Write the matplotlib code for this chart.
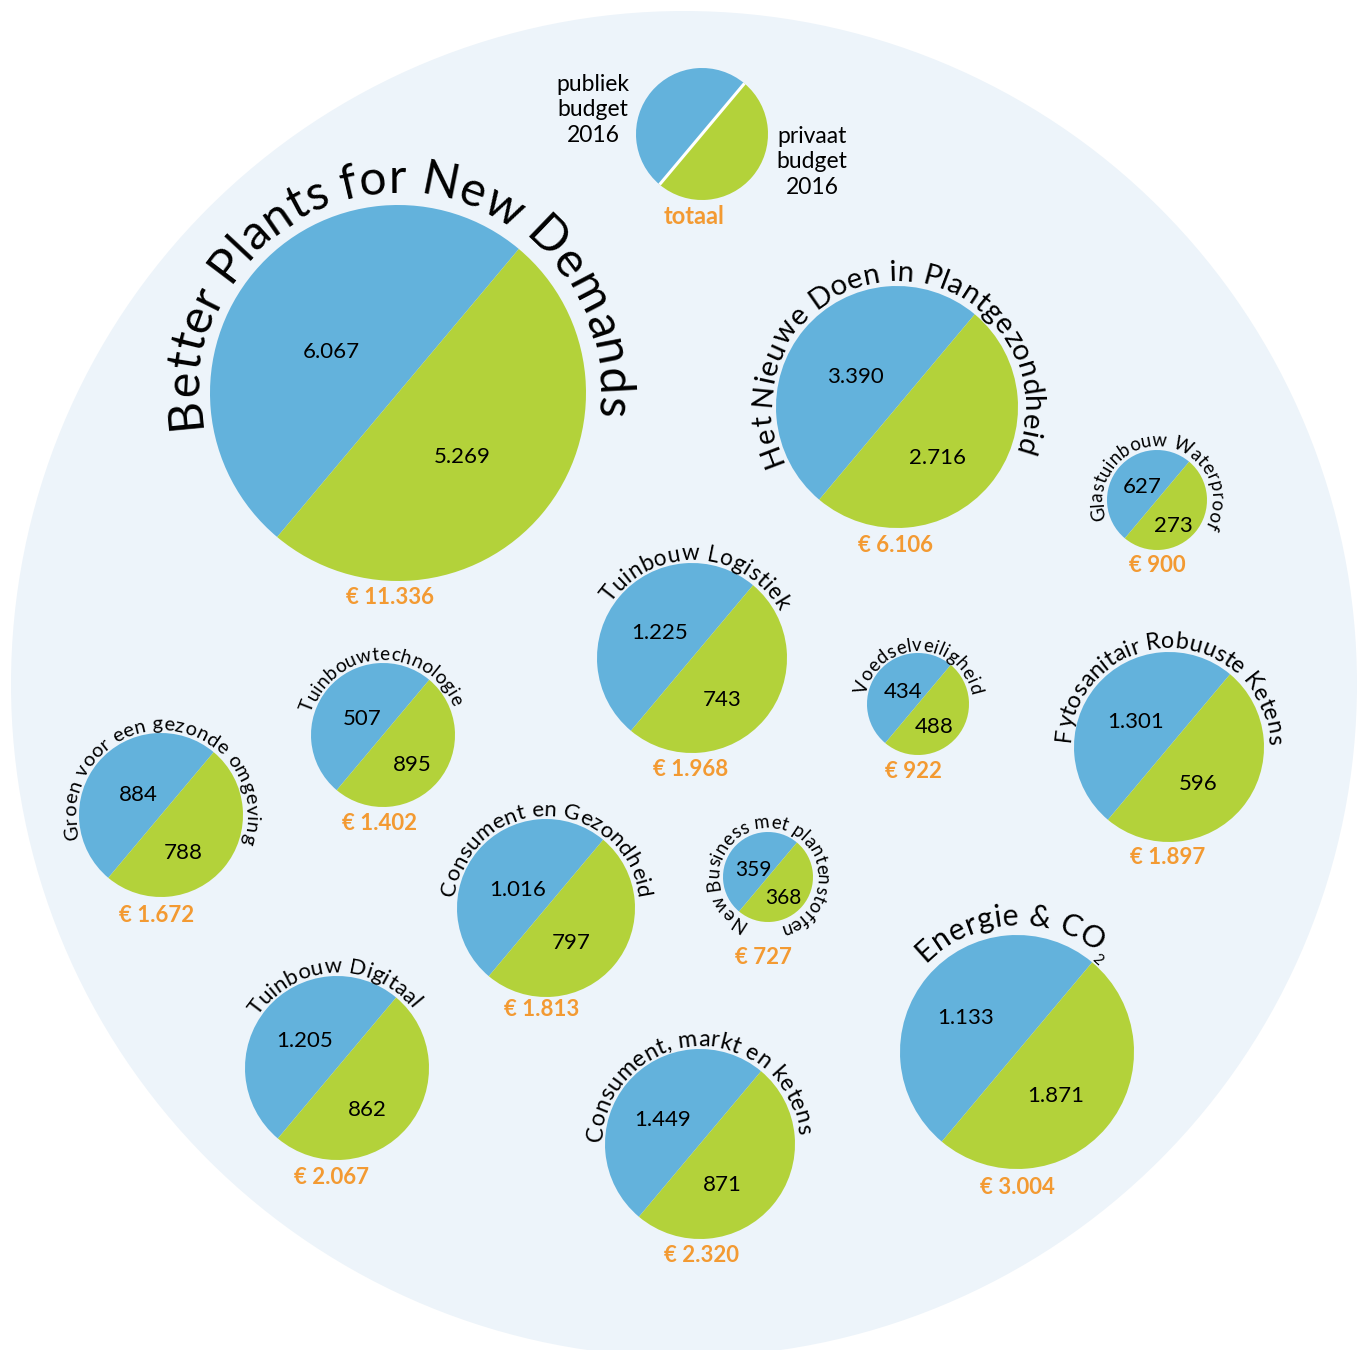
import numpy as np
import matplotlib
matplotlib.use("Agg")
import matplotlib.pyplot as plt
from matplotlib.patches import Circle, Wedge
from matplotlib.font_manager import FontProperties, findfont, get_font

W, H = 1362, 1350
FONT = "Lato"
BLUE = "#63B2DC"
GREEN = "#B3D23A"
ORANGE = "#F39A32"
BG = "#EDF4FA"

# data: budget 2016 (x 1000 euro)
projects = ["Better Plants for New Demands", "Het Nieuwe Doen in Plantgezondheid",
            "Glastuinbouw Waterproof", "Tuinbouw Logistiek", "Tuinbouwtechnologie",
            "Voedselveiligheid", "Fytosanitair Robuuste Ketens",
            "Groen voor een gezonde omgeving", "Consument en Gezondheid",
            "New Business met plantenstoffen", "Tuinbouw Digitaal",
            "Consument, markt en ketens", "Energie & CO"]
publiek = [6067, 3390, 627, 1225, 507, 434, 1301, 884, 1016, 359, 1205, 1449, 1133]
privaat = [5269, 2716, 273, 743, 895, 488, 596, 788, 797, 368, 862, 871, 1871]
totaal = [a + b for a, b in zip(publiek, privaat)]

# layout, image pixels (y down)
circ_x = [398, 897, 1157, 692, 383, 918, 1169, 161, 546, 768, 337, 700, 1017]
circ_y = [393, 407, 500, 658, 735, 704, 747, 815, 908, 877, 1068, 1144, 1052]
circ_r = [188, 121, 50, 95, 72, 51, 95, 82, 89, 45, 92, 95, 117]
lab_size = [37, 22, 15, 16.5, 15, 14, 19, 14.5, 17.5, 15, 17, 18, 22]
lab_R = [200, 126, 54, 98, 75, 53, 99, 85, 92, 49, 95, 98, 127]
lab_a0 = [190, 206, 201, 146, 163, 170, 177, 196, 173, 246, 147, 179, 136]
lab_a1 = [-7, -21, -29, 28, 22, 9, 1, -19, 6, -78, 38, 5, 47]
pub_xy = [(331, 352), (855, 377), (1142, 487), (660, 633), (362, 719), (903, 692),
          (1136, 722), (138, 795), (518, 890), (753, 870), (305, 1041), (663, 1120), (966, 1018)]
priv_xy = [(462, 457), (937, 458), (1173, 526), (722, 700), (412, 765), (934, 727),
           (1198, 784), (183, 853), (571, 943), (783, 898), (367, 1110), (722, 1185), (1056, 1096)]
tot_xy = [(390, 598), (896, 545), (1157, 566), (691, 769), (379, 823), (913, 772),
          (1168, 857), (157, 915), (542, 1010), (763, 957), (331, 1177), (701, 1255), (1017, 1187)]
val_size = [16, 16, 16, 16, 16, 16, 16, 16, 16, 15, 16, 16, 16]

SPLIT = 50     # angle of the dividing diagonal
TRACK = 0.02   # base letter spacing, fraction of the font size


def Y(y):
    return H - y


def fmt(v):
    return f"{v:,}".replace(",", ".")


def advances(chars):
    font = get_font(findfont(FontProperties(family=FONT)))
    out = []
    for c, size, _ in chars:
        font.set_size(size, 100)
        g = font.load_char(ord(c))
        out.append(g.linearHoriAdvance / 65536 + TRACK * size * 100 / 72)
    return out


def arc_text(ax, cx, cy, R, segments, a0, a1):
    """Text along the top of a circle, clockwise from angle a0 to a1 (degrees).
    Fitted to the arc partly by font size, the rest by letter spacing."""
    chars = [(c, size, dr) for text, size, dr in segments for c in text]
    target = np.radians(a0 - a1) * R
    scale = (target / sum(advances(chars))) ** 0.75
    chars = [(c, size * scale, dr) for c, size, dr in chars]
    adv = advances(chars)
    extra = (target - sum(adv)) / max(len(chars) - 1, 1)
    s = 0.0
    for i, ((c, size, dr), w) in enumerate(zip(chars, adv)):
        mid = s + w / 2 + i * extra
        s += w
        th = np.radians(a0) - mid / R
        rr = R + dr
        ax.text(cx + rr * np.cos(th), cy + rr * np.sin(th), c, fontsize=size,
                family=FONT, ha="center", va="baseline",
                rotation=np.degrees(th) - 90, rotation_mode="anchor", color="black")


def split_circle(ax, cx, cy, r):
    ax.add_patch(Wedge((cx, cy), r, SPLIT, SPLIT + 180, facecolor=BLUE, edgecolor="none"))
    ax.add_patch(Wedge((cx, cy), r, SPLIT + 180, SPLIT + 360, facecolor=GREEN, edgecolor="none"))


fig = plt.figure(figsize=(W / 100, H / 100), dpi=100)
ax = fig.add_axes([0, 0, 1, 1])
ax.set_xlim(0, W)
ax.set_ylim(0, H)
ax.axis("off")

ax.add_patch(Circle((684, Y(684)), 673, facecolor=BG, edgecolor="none"))

for i, name in enumerate(projects):
    cx, cy, r = circ_x[i], Y(circ_y[i]), circ_r[i]
    split_circle(ax, cx, cy, r)
    segs = [(name, lab_size[i], 0)]
    if name.endswith("CO"):
        segs.append(("2", 11, -9))
    arc_text(ax, cx, cy, lab_R[i], segs, lab_a0[i], lab_a1[i])
    ax.text(pub_xy[i][0], Y(pub_xy[i][1]), fmt(publiek[i]), fontsize=val_size[i],
            family=FONT, ha="center", va="center")
    ax.text(priv_xy[i][0], Y(priv_xy[i][1]), fmt(privaat[i]), fontsize=val_size[i],
            family=FONT, ha="center", va="center")
    ax.text(tot_xy[i][0], Y(tot_xy[i][1]), "€ " + fmt(totaal[i]), fontsize=16,
            family=FONT, fontweight="bold", color=ORANGE, ha="center", va="center")

# legend circle
lx, ly, lr = 702, Y(134), 66
split_circle(ax, lx, ly, lr)
t = np.radians(SPLIT)
ax.plot([lx - lr * np.cos(t), lx + lr * np.cos(t)], [ly - lr * np.sin(t), ly + lr * np.sin(t)],
        color="white", lw=2.2, solid_capstyle="butt")
ax.text(593, Y(110), "publiek\nbudget\n2016", fontsize=16.5, family=FONT, ha="center",
        va="center", linespacing=1.25)
ax.text(812, Y(162), "privaat\nbudget\n2016", fontsize=16.5, family=FONT, ha="center",
        va="center", linespacing=1.25)
ax.text(694, Y(216), "totaal", fontsize=17, family=FONT, fontweight="bold",
        color=ORANGE, ha="center", va="center")

fig.savefig("out.png", dpi=100)
